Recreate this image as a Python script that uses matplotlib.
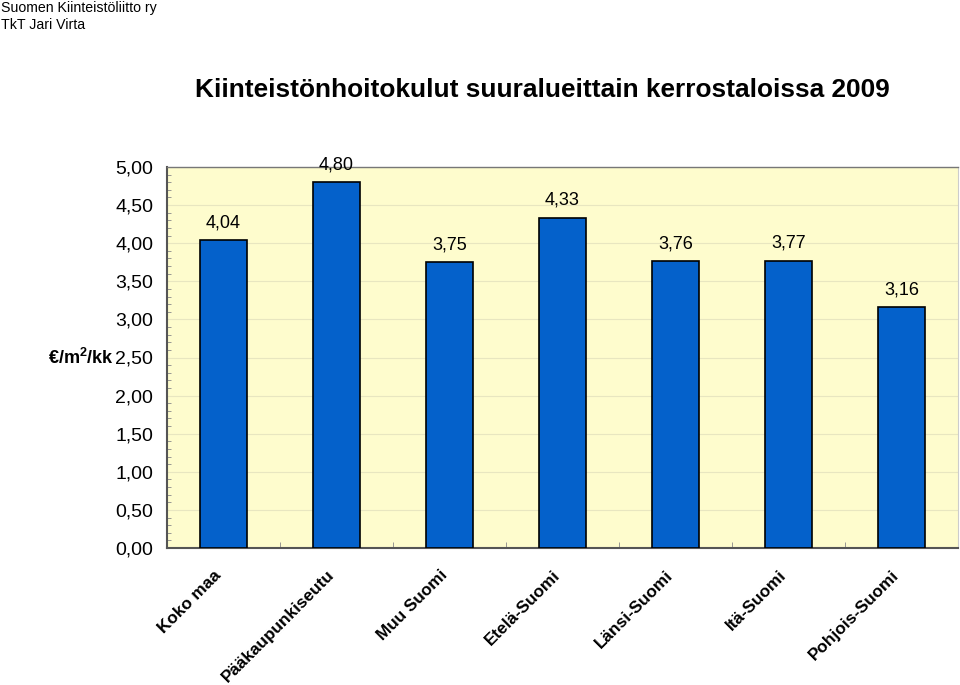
import matplotlib
matplotlib.use("Agg")
import matplotlib.pyplot as plt
from matplotlib.ticker import MultipleLocator, FuncFormatter
from matplotlib.transforms import ScaledTranslation

categories = ["Koko maa", "Pääkaupunkiseutu", "Muu Suomi", "Etelä-Suomi",
              "Länsi-Suomi", "Itä-Suomi", "Pohjois-Suomi"]
values = [4.04, 4.80, 3.75, 4.33, 3.76, 3.77, 3.16]
yticks = [0.0, 0.5, 1.0, 1.5, 2.0, 2.5, 3.0, 3.5, 4.0, 4.5, 5.0]

plt.rcParams['font.family'] = ['Liberation Sans', 'DejaVu Sans']
plt.rcParams['mathtext.fontset'] = 'custom'
plt.rcParams['mathtext.rm'] = 'Liberation Sans'
plt.rcParams['mathtext.bf'] = 'Liberation Sans:bold'

fig = plt.figure(figsize=(9.6, 6.85), dpi=100)
ax = fig.add_axes([167/960, 1-548/685, (958-167)/960, (548-167)/685])
ax.set_facecolor('#FEFCCD')

x = list(range(len(categories)))
ax.bar(x, values, width=0.41, color='#0461CB', edgecolor='black', linewidth=1.2, zorder=3)
for xi, v in zip(x, values):
    ax.text(xi, v + 0.12, f"{v:.2f}".replace('.', ','), ha='center', va='bottom',
            fontsize=13, color='black')

ax.set_xlim(-0.5, len(categories) - 0.5)
ax.set_ylim(0, 5)
ax.set_yticks(yticks)
ax.yaxis.set_major_formatter(FuncFormatter(lambda v, p: f"{v:.2f}".replace('.', ',')))
ax.yaxis.set_minor_locator(MultipleLocator(0.1))
ax.tick_params(axis='y', which='major', length=0, labelsize=14, pad=10)
ax.tick_params(axis='y', which='minor', length=3, direction='in', color='#888888')
ax.grid(axis='y', which='major', color='#E8E6C0', linewidth=0.8, zorder=0)

ax.set_xticks([i + 0.5 for i in range(len(categories) - 1)], minor=True)
ax.set_xticks(x)
ax.set_xticklabels(categories, rotation=45, ha='right', va='top', rotation_mode='anchor',
                   fontsize=12.3, fontweight='bold')
ax.tick_params(axis='x', which='major', length=0, pad=14)
ax.tick_params(axis='x', which='minor', length=4, direction='in', color='#888888')
shift = ScaledTranslation(-10/100, 0, fig.dpi_scale_trans)
for lab in ax.get_xticklabels():
    lab.set_transform(lab.get_transform() + shift)

for side in ['left', 'bottom']:
    ax.spines[side].set_color('#555555')
    ax.spines[side].set_linewidth(1.5)
ax.spines['top'].set_color('#777777')
ax.spines['top'].set_linewidth(1.0)
ax.spines['right'].set_color('#CCCCCC')
ax.spines['right'].set_linewidth(0.8)

fig.text(114/960, 1-358/685, r'€/m$^{\mathbf{2}}$/kk', ha='right', va='center',
         fontsize=13, fontweight='bold')

fig.text(542/960, 1-90/685, "Kiinteistönhoitokulut suuralueittain kerrostaloissa 2009",
         ha='center', va='center', fontsize=18.9, fontweight='bold')
fig.text(1/960, 1-8/685, "Suomen Kiinteistöliitto ry", ha='left', va='center', fontsize=10.2)
fig.text(1/960, 1-25/685, "TkT Jari Virta", ha='left', va='center', fontsize=10.2)

fig.savefig("out.png", dpi=100)
